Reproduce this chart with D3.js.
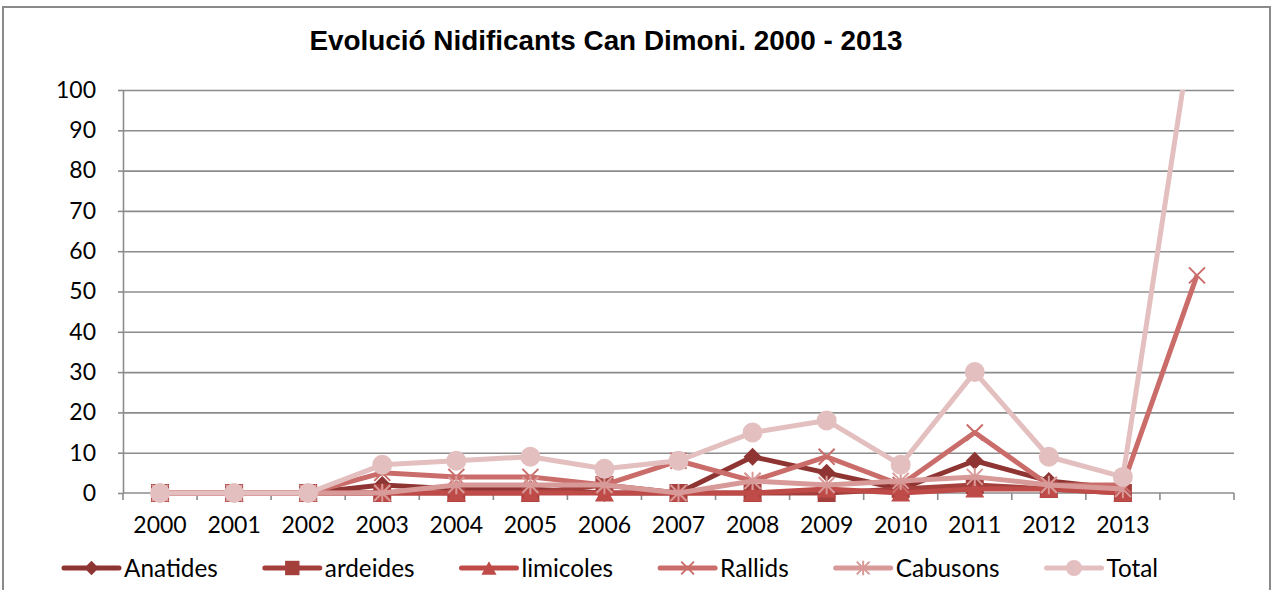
<!DOCTYPE html>
<html>
<head>
<meta charset="utf-8">
<script src="https://cdn.jsdelivr.net/npm/d3@7"></script>
<style>
  html, body { margin: 0; padding: 0; background: #fff; }
  svg { display: block; }
</style>
</head>
<body>
<svg id="chart" width="1273" height="590"></svg>
<script>
// ---- data ----
const categories = ["2000","2001","2002","2003","2004","2005","2006","2007","2008","2009","2010","2011","2012","2013",""];
const anatides  = [0,0,0,2,1,1,0,0,9,5,1,8,3,1,null];
const ardeides  = [0,0,0,0,0,0,2,0,0,0,1,2,1,0,null];
const limicoles = [0,0,0,0,0,0,0,0,0,1,0,1,1,0,null];
const rallids   = [0,0,0,5,4,4,2,8,3,9,2,15,2,2,54];
const cabusons  = [0,0,0,0,2,2,2,0,3,2,3,4,2,1,null];
const total     = [0,0,0,7,8,9,6,8,15,18,7,30,9,4,123];
const seriesNames = ["Anatides","ardeides","limicoles","Rallids","Cabusons","Total"];
const yTicks = [0,10,20,30,40,50,60,70,80,90,100];
const title = "Evolució Nidificants Can Dimoni. 2000 - 2013";

const series = [
  {name: seriesNames[0], values: anatides,  color: "#8E3533", marker: "diamond"},
  {name: seriesNames[1], values: ardeides,  color: "#A53F3C", marker: "square"},
  {name: seriesNames[2], values: limicoles, color: "#BF4B48", marker: "triangle"},
  {name: seriesNames[3], values: rallids,   color: "#CA6D6A", marker: "x"},
  {name: seriesNames[4], values: cabusons,  color: "#D89A98", marker: "star"},
  {name: seriesNames[5], values: total,     color: "#E3BFBF", marker: "circle"}
];

const svg = d3.select("#chart");
const W = 1273, H = 590;
const plot = {left: 123, right: 1234, top: 90, bottom: 493};
const FONT = "Lato, 'Open Sans', sans-serif";

// outer border
svg.append("rect").attr("x", 3).attr("y", 7).attr("width", W - 6).attr("height", H + 10)
  .attr("fill", "#fff").attr("stroke", "#8a8a8a").attr("stroke-width", 2);

const x = d3.scaleBand().domain(d3.range(categories.length)).range([plot.left, plot.right]).padding(0);
const cx = i => x(i) + x.bandwidth() / 2;
const y = d3.scaleLinear().domain([0, 100]).range([plot.bottom, plot.top]);

// gridlines
svg.append("g")
  .attr("transform", `translate(${plot.left},0)`)
  .call(d3.axisLeft(y).tickValues(yTicks.filter(v => v > 0)).tickSize(-(plot.right - plot.left)).tickFormat(""))
  .call(g => g.select(".domain").remove())
  .call(g => g.selectAll("line").attr("stroke", "#8c8c8c").attr("stroke-width", 1.6));

// y axis
const yAxis = svg.append("g")
  .attr("transform", `translate(${plot.left},0)`)
  .call(d3.axisLeft(y).tickValues(yTicks).tickSize(5).tickPadding(22).tickSizeOuter(0));
yAxis.select(".domain").attr("stroke", "#8c8c8c").attr("stroke-width", 1.6);
yAxis.selectAll(".tick line").attr("stroke", "#8c8c8c").attr("stroke-width", 1.6);
yAxis.selectAll("text").attr("font-family", FONT).attr("font-size", 23).attr("fill", "#000");

// x axis line + boundary ticks
const xg = svg.append("g");
xg.append("line").attr("x1", plot.left).attr("x2", plot.right).attr("y1", y(0)).attr("y2", y(0))
  .attr("stroke", "#8c8c8c").attr("stroke-width", 1.6);
xg.selectAll("line.tk").data(d3.range(categories.length + 1)).join("line").attr("class", "tk")
  .attr("x1", i => plot.left + i * x.bandwidth()).attr("x2", i => plot.left + i * x.bandwidth())
  .attr("y1", y(0)).attr("y2", y(0) + 7)
  .attr("stroke", "#8c8c8c").attr("stroke-width", 1.6);
xg.selectAll("text").data(categories).join("text")
  .attr("x", (d, i) => cx(i)).attr("y", 533)
  .attr("text-anchor", "middle")
  .attr("font-family", FONT).attr("font-size", 23).attr("fill", "#000")
  .text(d => d);

// title
svg.append("text").attr("x", 606).attr("y", 50).attr("text-anchor", "middle")
  .attr("font-family", "'Liberation Sans', Arial, sans-serif").attr("font-weight", "bold")
  .attr("font-size", 27).attr("fill", "#000")
  .attr("textLength", 593).attr("lengthAdjust", "spacingAndGlyphs")
  .text(title);

// clip
svg.append("clipPath").attr("id", "clip").append("rect")
  .attr("x", plot.left - 20).attr("y", plot.top).attr("width", plot.right - plot.left + 40).attr("height", H - plot.top);

function drawMarker(g, type, color, px, py, scale) {
  const s = scale || 1;
  if (type === "diamond") {
    const r = 9 * s;
    g.append("path").attr("d", `M${px},${py - r}L${px + r},${py}L${px},${py + r}L${px - r},${py}Z`).attr("fill", color);
  } else if (type === "square") {
    const h = 9 * s;
    g.append("rect").attr("x", px - h).attr("y", py - h).attr("width", 2 * h).attr("height", 2 * h).attr("fill", color);
  } else if (type === "triangle") {
    const w = 9.5 * s, hh = 8.5 * s;
    g.append("path").attr("d", `M${px},${py - hh}L${px + w},${py + hh}L${px - w},${py + hh}Z`).attr("fill", color);
  } else if (type === "x") {
    const r = 8 * s;
    g.append("path").attr("d", `M${px - r},${py - r}L${px + r},${py + r}M${px - r},${py + r}L${px + r},${py - r}`)
      .attr("stroke", color).attr("stroke-width", 2).attr("fill", "none");
  } else if (type === "star") {
    const r = 8 * s;
    g.append("path").attr("d", `M${px - r},${py - r}L${px + r},${py + r}M${px - r},${py + r}L${px + r},${py - r}M${px},${py - r * 1.15}L${px},${py + r * 1.15}`)
      .attr("stroke", color).attr("stroke-width", 2).attr("fill", "none");
  } else if (type === "circle") {
    g.append("circle").attr("cx", px).attr("cy", py).attr("r", 10 * s).attr("fill", color);
  }
}

// series
const plotG = svg.append("g").attr("clip-path", "url(#clip)");
const line = d3.line().defined(d => d != null).x((d, i) => cx(i)).y(d => y(d));
series.forEach(s => {
  const g = plotG.append("g");
  g.append("path").datum(s.values).attr("d", line)
    .attr("fill", "none").attr("stroke", s.color).attr("stroke-width", 5).attr("stroke-linejoin", "round");
  s.values.forEach((v, i) => {
    if (v == null) return;
    drawMarker(g, s.marker, s.color, cx(i), y(v), 1);
  });
});

// legend
const legendY = 568;
const legend = svg.append("g");
let lx = 64;
series.forEach(s => {
  const g = legend.append("g");
  g.append("line").attr("x1", lx).attr("x2", lx + 55).attr("y1", legendY).attr("y2", legendY)
    .attr("stroke", s.color).attr("stroke-width", 5).attr("stroke-linecap", "round");
  drawMarker(g, s.marker, s.color, lx + 27.5, legendY, 0.8);
  const t = g.append("text").attr("x", lx + 60).attr("y", legendY + 9)
    .attr("font-family", FONT).attr("font-size", 24.3).attr("fill", "#000")
    .text(s.name);
  const w = t.node().getComputedTextLength();
  lx += 60 + w + 47;
});
</script>
</body>
</html>
